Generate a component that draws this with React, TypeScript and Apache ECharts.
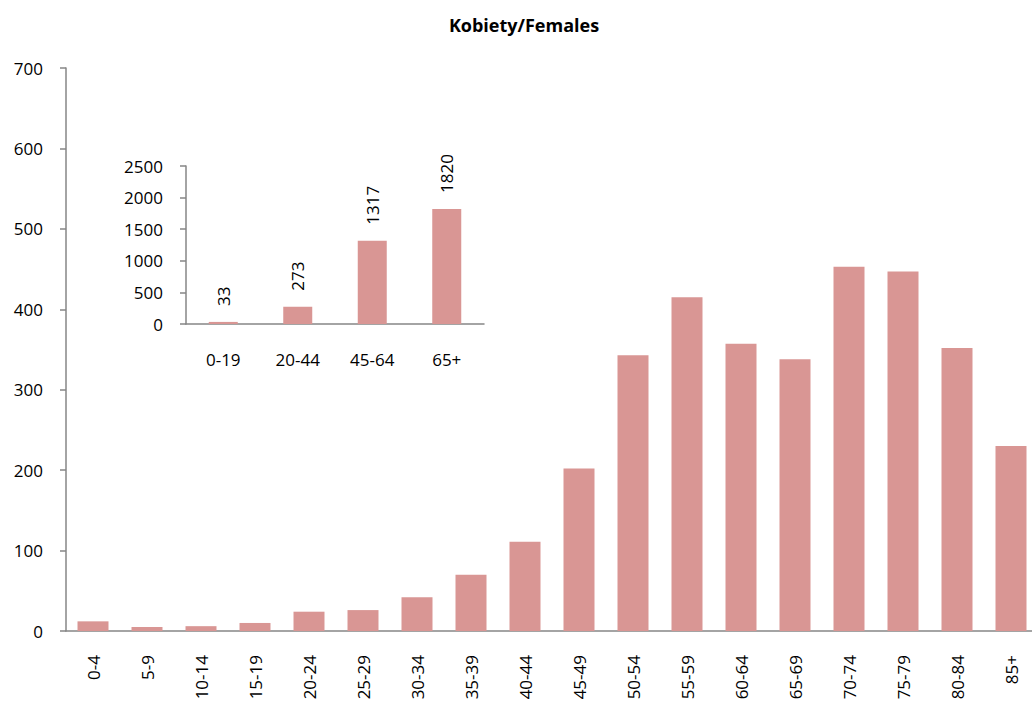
import React, { useEffect, useRef } from "react";
import * as echarts from "echarts";

const ageGroups = ["0-4","5-9","10-14","15-19","20-24","25-29","30-34","35-39","40-44","45-49","50-54","55-59","60-64","65-69","70-74","75-79","80-84","85+"];
const females = [12,5,6,10,24,26,42,70,111,202,343,415,357,338,453,447,352,230];
const broadGroups = ["0-19","20-44","45-64","65+"];
const broadFemales = [33,273,1317,1820];
const mainTicks = { min: 0, max: 700, interval: 100 };
const insetTicks = { min: 0, max: 2500, interval: 500 };

const FONT = "'Open Sans', 'Noto Sans', sans-serif";
const BAR = "#D99694";
const AXIS = "#868686";

export default function App() {
  const ref = useRef<HTMLDivElement>(null);
  useEffect(() => {
    const chart = echarts.init(ref.current!, undefined, { renderer: "svg" });
    chart.setOption({
      animation: false,
      backgroundColor: "#fff",
      title: {
        text: "Kobiety/Females",
        left: 519,
        top: 11,
        textAlign: "center",
        textStyle: { fontFamily: FONT, fontWeight: "bold", fontSize: 18, color: "#000" },
      },
      grid: [
        { left: 66, top: 68, width: 972, height: 563 },
        { left: 186, top: 166, width: 298, height: 158 },
      ],
      xAxis: [
        {
          type: "category", gridIndex: 0, data: ageGroups,
          axisLine: { lineStyle: { color: AXIS, width: 1.5 } },
          axisTick: { length: 7, lineStyle: { color: AXIS, width: 1.5 } },
          axisLabel: { interval: 0, rotate: 90, margin: 24, fontFamily: FONT, fontSize: 17, color: "#000" },
        },
        {
          type: "category", gridIndex: 1, data: broadGroups,
          axisLine: { lineStyle: { color: AXIS, width: 1.5 } },
          axisTick: { length: 7, lineStyle: { color: AXIS, width: 1.5 } },
          axisLabel: { interval: 0, margin: 27, fontFamily: FONT, fontSize: 17, color: "#000" },
        },
      ],
      yAxis: [
        {
          type: "value", gridIndex: 0, ...mainTicks,
          axisLine: { show: true, lineStyle: { color: AXIS, width: 1.5 } },
          axisTick: { show: true, length: 6, lineStyle: { color: AXIS, width: 1.5 } },
          splitLine: { show: false },
          axisLabel: { margin: 23, fontFamily: FONT, fontSize: 17, color: "#000", formatter: (v: number) => String(v) },
        },
        {
          type: "value", gridIndex: 1, ...insetTicks,
          axisLine: { show: true, lineStyle: { color: AXIS, width: 1.5 } },
          axisTick: { show: true, length: 6, lineStyle: { color: AXIS, width: 1.5 } },
          splitLine: { show: false },
          axisLabel: { margin: 23, fontFamily: FONT, fontSize: 17, color: "#000", formatter: (v: number) => String(v) },
        },
      ],
      series: [
        {
          type: "bar", xAxisIndex: 0, yAxisIndex: 0, data: females,
          barWidth: 31, itemStyle: { color: BAR },
        },
        {
          type: "bar", xAxisIndex: 1, yAxisIndex: 1, data: broadFemales,
          barWidth: 29,
          itemStyle: { color: BAR },
          label: {
            show: true, position: "top", distance: 16, rotate: 90,
            align: "left", verticalAlign: "middle",
            fontFamily: FONT, fontSize: 17, color: "#000",
          },
        },
      ],
    });
    return () => chart.dispose();
  }, []);
  return (
    <div style={{ position: "fixed", left: 0, top: 0, width: 1032, height: 704, overflow: "hidden", background: "#fff" }}>
      <div ref={ref} style={{ width: 1044, height: 704 }} />
    </div>
  );
}
